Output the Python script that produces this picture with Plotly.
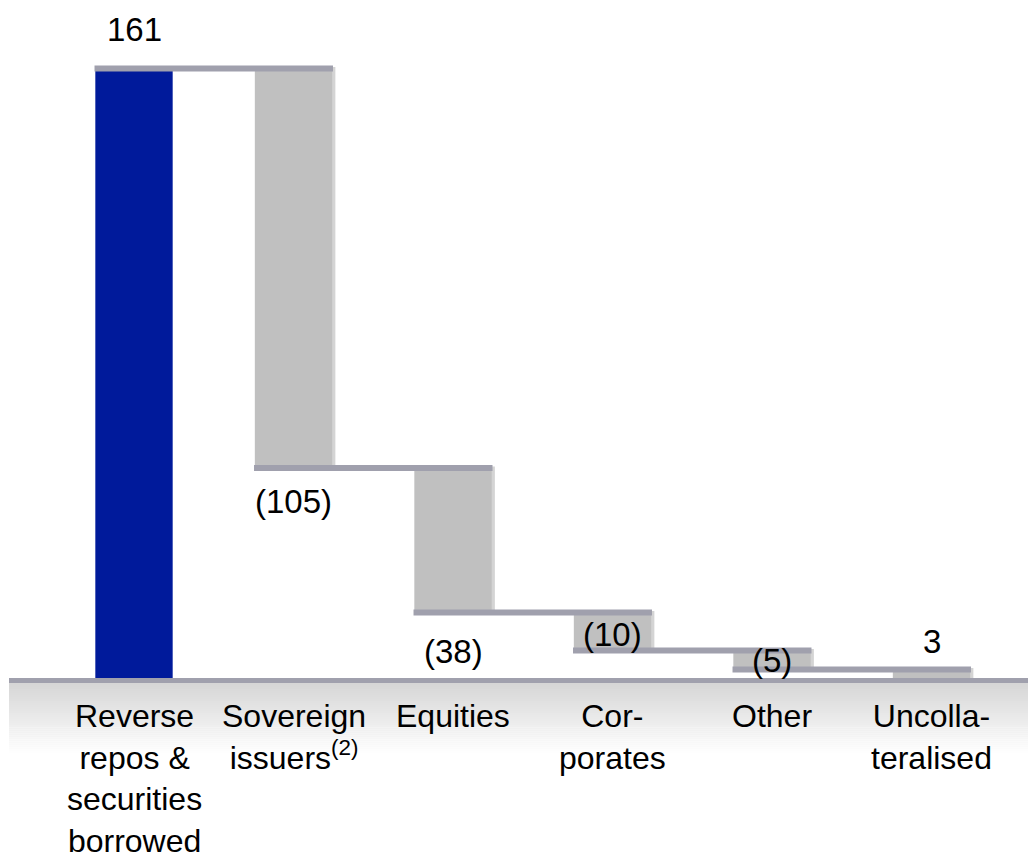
import plotly.graph_objects as go

# ---- data ----
categories = ["Reverse<br>repos &<br>securities<br>borrowed",
              "Sovereign<br>issuers<sup>(2)</sup>",
              "Equities",
              "Cor-<br>porates",
              "Other",
              "Uncolla-<br>teralised"]
values = [161, -105, -38, -10, -5, 3]
measures = ["absolute", "relative", "relative", "relative", "relative", "total"]

# ---- styles ----
BLUE = "#001a9b"
GREY = "#c0c0c0"
CONN = "#a0a0ad"
FONT = "Liberation Sans"
label_shift = [38, -35, -40, 15, 8, 27]   # px offsets of value labels
bar_w = 0.485
OFF = 8            # page body margin
W, H = 1036 - OFF, 856 - OFF

# compute bars from values
xs = list(range(len(values)))
bases, heights, ends, levels = [], [], [], []
cum = 0
for v, m in zip(values, measures):
    if m == "absolute":
        bases.append(0); heights.append(v); cum = v; ends.append(v)
    elif m == "total":
        bases.append(0); heights.append(cum); ends.append(cum)
    else:
        bases.append(cum); heights.append(v); cum = cum + v; ends.append(cum)
    levels.append(cum)

colors = [BLUE if m == "absolute" else GREY for m in measures]

fig = go.Figure()

# subtle shadow behind grey bars
fig.add_trace(go.Bar(x=[x + 0.02 for x in xs[1:]], y=heights[1:], base=bases[1:],
                     width=bar_w, marker=dict(color="#d4d4d4", line=dict(width=0)),
                     hoverinfo="skip", showlegend=False))
fig.add_trace(go.Bar(x=xs, y=heights, base=bases, width=bar_w,
                     marker=dict(color=colors, line=dict(width=0)),
                     hoverinfo="skip", showlegend=False))

# connectors: spanning from left edge of bar i to right edge of bar i+1
cx, cy = [], []
for i in range(len(values) - 1):
    lvl = levels[i]
    cx += [i - bar_w / 2 - 0.005, i + 1 + bar_w / 2 + 0.005, None]
    cy += [lvl - 0.4, lvl - 0.4, None]
fig.add_trace(go.Scatter(x=cx, y=cy, mode="lines",
                         line=dict(color=CONN, width=6),
                         hoverinfo="skip", showlegend=False))

fig.update_layout(barmode="overlay")

# value labels
for i, v in enumerate(values):
    txt = f"({abs(v)})" if v < 0 else f"{v}"
    fig.add_annotation(x=i, y=ends[i], text=txt, showarrow=False,
                       yanchor="middle", yshift=label_shift[i],
                       font=dict(family=FONT, size=33, color="#000000"))

# category labels
for i, c in enumerate(categories):
    fig.add_annotation(x=i, y=-4.3, yref="y", text=c, showarrow=False,
                       yanchor="top", align="center",
                       font=dict(family=FONT, size=32, color="#000000"))

# gradient band below baseline
shapes = []
top, bot = -0.92, -19.9
n = 36
for k in range(n):
    y0 = top + (bot - top) * k / n
    y1 = top + (bot - top) * (k + 1) / n
    t = k / (n - 1)
    g = int(round(0xd6 + (0xff - 0xd6) * t))
    shapes.append(dict(type="rect", xref="paper", yref="y",
                       x0=1 / W, x1=1, y0=y1 - 0.05, y1=y0,
                       fillcolor=f"rgb({g},{g},{g})", line=dict(width=0),
                       layer="below"))
# baseline line
shapes.append(dict(type="rect", xref="paper", yref="y",
                   x0=1 / W, x1=1, y0=-0.92, y1=0.39,
                   fillcolor=CONN, line=dict(width=0), layer="above"))

px_per = (679.5 - 67) / 161.0
base_px = 679.5 - OFF
x0_px = 134 - OFF
fig.update_layout(
    shapes=shapes,
    width=W, height=H,
    margin=dict(l=0, r=0, t=0, b=0),
    paper_bgcolor="white", plot_bgcolor="white",
    xaxis=dict(range=[-x0_px / 159.5, (W - x0_px) / 159.5], visible=False,
               fixedrange=True),
    yaxis=dict(range=[-(H - base_px) / px_per, base_px / px_per], visible=False,
               fixedrange=True),
    showlegend=False,
    hovermode=False,
)

fig.write_html("out.html")
